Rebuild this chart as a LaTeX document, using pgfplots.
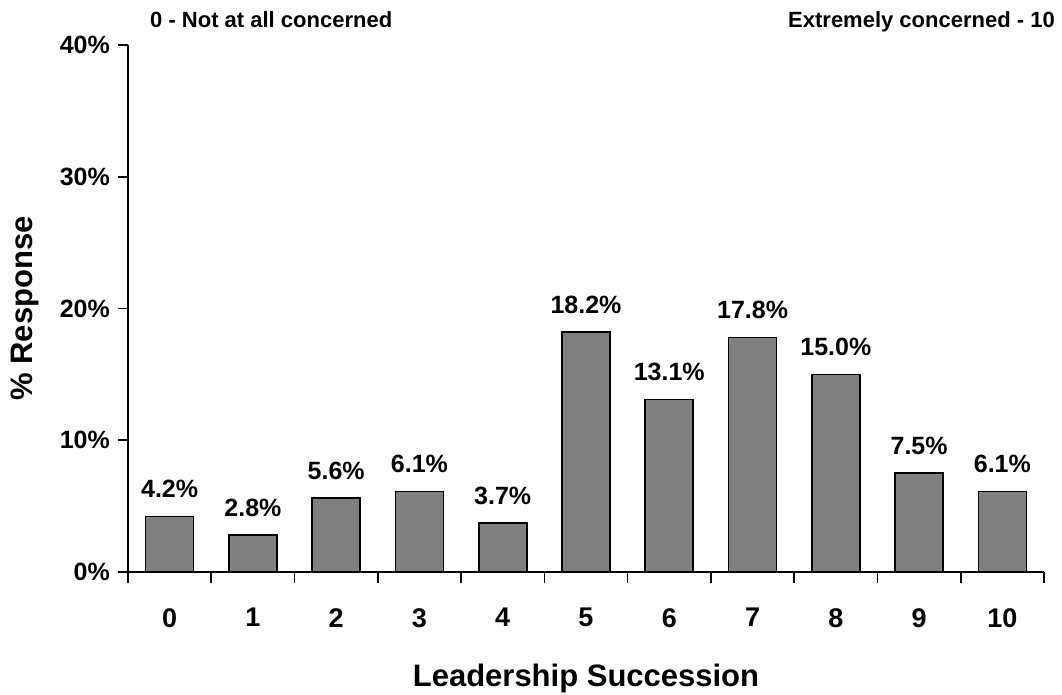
\documentclass[border=0pt]{standalone}
\usepackage{fontspec}
\setmainfont{Liberation Sans}
\usepackage{pgfplots}
\pgfplotsset{compat=1.18}
\definecolor{bargray}{HTML}{808080}
\begin{document}
\begin{tikzpicture}
\useasboundingbox (-128pt,-122pt) rectangle (934pt,572pt);
\begin{axis}[
  at={(0,0)}, anchor=south west,
  scale only axis,
  width=916pt, height=527pt,
  xmin=-0.5, xmax=10.5,
  ymin=0, ymax=40,
  axis lines=left,
  axis line style={-, line width=1.6pt},
  ybar,
  bar width=48pt,
  /pgf/number format/assume math mode=true,
  xtick={0,...,10},
  minor xtick={-0.5,0.5,...,10.5},
  ytick={0,10,20,30,40},
  yticklabel={\pgfmathprintnumber{\tick}\%},
  tick align=outside,
  major tick length=10pt,
  minor tick length=11pt,
  major x tick style={draw=none},
  minor x tick style={draw=black, line width=1.6pt},
  major y tick style={draw=black, line width=1.6pt},
  x tick label style={font=\fontsize{27}{32}\selectfont\bfseries, inner sep=0pt, anchor=north, yshift=-26pt},
  y tick label style={font=\fontsize{25}{30}\selectfont\bfseries, inner sep=0pt, anchor=east, xshift=-8pt},
  xlabel={Leadership Succession},
  ylabel={\% Response},
  xlabel style={font=\fontsize{31}{36}\selectfont\bfseries, at={(axis description cs:0.5,-0.218)}, anchor=base},
  ylabel style={font=\fontsize{31}{36}\selectfont\bfseries, at={(axis description cs:-0.1045,0.5)}, anchor=base},
  nodes near coords={\pgfmathprintnumber[fixed,fixed zerofill,precision=1]{\pgfplotspointmeta}\%},
  every node near coord/.append style={font=\fontsize{25}{30}\selectfont\bfseries, anchor=base, inner sep=0pt, yshift=19pt},
  clip=false,
]
\addplot[fill=bargray, draw=black, line width=1.6pt] coordinates {
(0,4.2) (1,2.8) (2,5.6) (3,6.1) (4,3.7) (5,18.2) (6,13.1) (7,17.8) (8,15.0) (9,7.5) (10,6.1)
};
\node[anchor=base west, inner sep=0pt, font=\fontsize{22}{26}\selectfont\bfseries] at (axis description cs:0.024,1.034) {0 - Not at all concerned};
\node[anchor=base east, inner sep=0pt, font=\fontsize{22}{26}\selectfont\bfseries] at (axis description cs:1.012,1.034) {Extremely concerned - 10};
\end{axis}
\end{tikzpicture}
\end{document}
